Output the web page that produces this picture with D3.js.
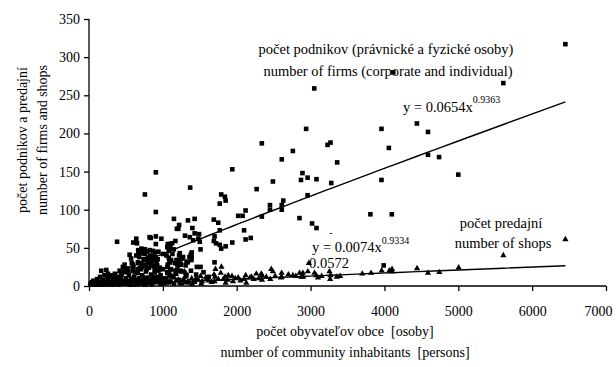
<!DOCTYPE html>
<html>
<head>
<meta charset="utf-8">
<script src="https://cdn.jsdelivr.net/npm/d3@7/dist/d3.min.js"></script>
<style>
  body { margin: 0; background: #fff; }
  svg { display: block; }
  text { font-family: "Liberation Serif", "Times New Roman", serif; fill: #000; }
</style>
</head>
<body>
<svg id="chart" width="616" height="367"></svg>
<script>
// firms: [inhabitants, number of firms]
const firms = [
  [6450, 317], [5610, 266], [4120, 280], [4440, 213], [4590, 202], [4590, 172],
  [4740, 169], [5000, 146], [4100, 94], [3050, 259], [2940, 206], [3960, 206],
  [3230, 185], [3270, 188], [4060, 181], [3360, 162], [2890, 148], [2960, 142],
  [3080, 140], [3960, 139], [2340, 187], [2760, 177], [2610, 166], [2490, 137],
  [2870, 139], [3280, 135], [2960, 119], [2630, 112], [2610, 106], [2450, 106],
  [2450, 100], [2610, 100], [2340, 91], [2850, 89], [3020, 82], [3080, 76],
  [3810, 94], [3990, 27], [905, 149], [1940, 153], [1370, 129], [2270, 127],
  [905, 97], [1790, 120], [1840, 117], [1770, 108], [1850, 112], [2020, 92],
  [2080, 92], [2120, 99], [1150, 88], [1340, 86], [1430, 88], [1220, 80],
  [1210, 75], [1190, 75], [1400, 76], [1690, 87], [1750, 83], [2100, 73],
  [1770, 73], [1300, 66], [1365, 64], [1430, 69], [1490, 68], [1410, 60],
  [1500, 58], [1480, 62], [1700, 65], [1690, 59], [1720, 56], [1770, 54],
  [1790, 49], [1850, 52], [1940, 57], [2120, 61], [2190, 63], [820, 64],
  [1170, 59], [1095, 55], [1060, 51], [1100, 51], [1080, 46], [1260, 36],
  [1220, 34], [1240, 29], [1390, 44], [1390, 38], [1510, 48], [1460, 25],
  [1700, 31], [1060, 25], [1090, 31], [757, 120], [380, 58], [640, 62],
  [600, 57], [650, 56], [980, 62], [905, 65], [835, 63], [905, 55],
  [710, 49], [757, 48], [666, 47], [550, 41], [570, 36], [166, 20],
  [234, 21], [257, 16], [1310, 27], [1320, 32], [1190, 21], [1170, 20],
  [1510, 25], [824, 47], [869, 46], [892, 44], [860, 39], [824, 36],
  [892, 34], [914, 31], [847, 27], [892, 21], [1004, 42], [923, 27],
  [960, 24], [730, 48], [707, 43], [788, 45], [753, 42], [797, 38],
  [774, 35], [820, 33], [842, 28], [1067, 55], [1125, 56], [1148, 48],
  [1090, 31], [1112, 34], [1067, 28], [886, 25], [955, 22], [1224, 32],
  [1247, 28], [1337, 31], [1360, 38], [415, 20], [459, 25], [482, 28],
  [504, 23], [527, 19], [436, 14], [594, 28], [662, 31], [689, 24],
  [1229, 43], [1274, 38], [1378, 41], [1387, 34], [1185, 34], [1193, 29],
  [320, 14], [365, 10], [410, 12], [455, 19], [523, 23],
  [700, 30], [720, 25], [740, 35], [760, 28], [780, 22], [800, 30],
  [830, 40], [850, 33], [870, 26], [900, 38], [930, 35], [940, 45],
  [680, 38], [660, 22], [620, 18], [600, 24], [580, 30], [640, 40], [670, 44],
  [1050, 40], [1080, 37], [1130, 42], [1160, 30], [1200, 26], [1220, 40],
  [1110, 22], [1060, 18], [1140, 12], [1240, 20],
  [30, 4], [60, 7], [80, 2], [110, 9], [130, 5], [150, 12], [170, 3],
  [190, 8], [210, 14], [240, 6], [260, 10], [280, 4], [300, 13], [320, 8],
  [350, 16], [370, 5], [390, 11], [420, 7], [440, 15], [460, 3], [480, 18],
  [500, 10], [520, 6], [540, 14], [570, 9], [590, 20], [610, 12], [630, 5],
  [660, 17], [680, 10], [700, 22], [720, 14], [740, 8], [770, 19], [790, 11],
  [810, 24], [840, 15], [860, 9], [890, 18], [910, 12], [940, 20], [970, 14],
  [1000, 22], [1030, 10], [1060, 17], [1100, 21], [1130, 13], [1180, 16],
  [1250, 19], [1320, 14], [1380, 20], [1450, 15], [1550, 18], [1620, 12],
  [20, 2], [45, 5], [95, 4], [140, 2], [180, 6], [220, 3], [270, 2],
  [310, 5], [360, 3], [400, 2], [430, 9], [470, 6], [510, 3], [550, 4],
  [600, 8], [640, 2], [700, 5], [750, 3], [800, 6], [850, 2], [900, 5],
  [950, 8], [1020, 4], [1080, 6], [1150, 3], [1220, 8], [1300, 5], [1420, 6]
];

// shops: [inhabitants, number of shops]
const shops = [
  [6450, 61], [5610, 40], [5005, 24], [4743, 18], [4590, 17], [4442, 23],
  [4104, 19], [2342, 14], [2342, 8], [2468, 22], [2490, 19], [2455, 9],
  [2608, 17], [2608, 12], [2761, 14], [2851, 17], [2874, 12], [2896, 17],
  [2963, 19], [3053, 17], [3076, 14], [3256, 19], [3270, 14], [3265, 9],
  [3355, 12], [3819, 17], [3963, 20], [4067, 20], [4103, 22], [2977, 30],
  [1712, 22], [1793, 25], [1784, 17], [1693, 15], [1706, 12], [1310, 17],
  [1170, 16], [1094, 14], [1071, 12], [1936, 13], [1842, 12], [2121, 14],
  [2266, 16], [2333, 16], [2130, 4], [1090, 17], [1292, 19], [1885, 14],
  [2020, 11], [2200, 12], [50, 2], [90, 3], [130, 1], [170, 4], [210, 2],
  [250, 5], [290, 3], [330, 6], [370, 2], [410, 4], [450, 7], [490, 3],
  [530, 5], [570, 2], [610, 6], [650, 4], [690, 8], [730, 3], [770, 5],
  [810, 7], [850, 4], [890, 9], [930, 5], [970, 3], [1010, 6], [1050, 8],
  [1120, 5], [1180, 7], [1230, 4], [1280, 9], [1340, 6], [1390, 10],
  [1430, 5], [1480, 8], [1530, 6], [1580, 11], [1620, 7], [1660, 5],
  [1750, 9], [1880, 8], [1980, 10], [2050, 7], [2180, 11], [2230, 9],
  [2400, 12], [2520, 13], [2700, 15], [2800, 13], [3150, 13], [1520, 3],
  [1400, 2], [1250, 3], [980, 2], [760, 1], [560, 1], [1850, 4],
  [20, 1], [70, 4], [110, 2], [150, 5], [190, 1], [230, 3], [270, 6],
  [310, 1], [350, 4], [390, 7], [430, 2], [470, 5], [510, 8], [550, 3],
  [590, 6], [630, 9], [670, 2], [710, 6], [750, 10], [790, 3], [830, 8],
  [870, 11], [910, 6], [950, 12], [1000, 9], [1070, 4], [1150, 11],
  [1210, 8], [1300, 12], [1360, 4], [1450, 10], [1510, 13], [1600, 9],
  [1700, 6], [1820, 9], [1950, 6], [2100, 9], [2300, 10], [2600, 11],
  [2900, 12], [3100, 11], [3400, 13], [3700, 16]
];

// power trend lines y = a * x^b
const firmFit = [0.0654, 0.9363];
const shopFit = [0.0074, 0.9334];

const xTicks = [0, 1000, 2000, 3000, 4000, 5000, 6000, 7000];
const yTicks = [0, 50, 100, 150, 200, 250, 300, 350];

function render() {
  const svg = d3.select("#chart");
  const x = d3.scaleLinear().domain([0, 7000]).range([89, 606]);
  const y = d3.scaleLinear().domain([0, 350]).range([286, 19]);

  // axes
  const yAxis = d3.axisLeft(y).tickValues(yTicks).tickSize(5).tickPadding(4)
    .tickFormat(d3.format("d"));
  const xAxis = d3.axisBottom(x).tickValues(xTicks).tickSize(5).tickPadding(15)
    .tickFormat(d3.format("d"));

  const gy = svg.append("g").attr("transform", "translate(89,0)").call(yAxis);
  const gx = svg.append("g").attr("transform", "translate(0,286)").call(xAxis);
  [gx, gy].forEach((g) => {
    g.selectAll("path, line").attr("stroke", "#000").attr("stroke-width", 1.3);
    g.selectAll("text").attr("font-size", 14).attr("font-family", "Liberation Serif");
  });
  gy.select(".domain").attr("d", "M0,19V286");
  gx.select(".domain").attr("d", "M89,0H606");
  // last label is pulled in so it fits the frame, as in the original
  gx.selectAll(".tick text").filter((d) => d === 7000).attr("dx", -8);

  // trend lines evaluated at the sorted data x values
  function trend(data, fit) {
    const xs = data.map((d) => d[0]).sort((a, b) => a - b);
    return xs.map((v) => [v, fit[0] * Math.pow(v, fit[1])]);
  }
  const line = d3.line().x((d) => x(d[0])).y((d) => y(d[1]));

  // points
  svg.append("g").selectAll("rect").data(firms).enter().append("rect")
    .attr("x", (d) => x(d[0]) - 2.3)
    .attr("y", (d) => y(d[1]) - 2.3)
    .attr("width", 4.6)
    .attr("height", 4.6)
    .attr("fill", "#000");

  const tri = d3.symbol().type(d3.symbolTriangle).size(17);
  svg.append("g").selectAll("path").data(shops).enter().append("path")
    .attr("d", tri)
    .attr("transform", (d) => `translate(${x(d[0])},${y(d[1])})`)
    .attr("fill", "#000");

  svg.append("path").datum(trend(firms, firmFit))
    .attr("d", line).attr("fill", "none").attr("stroke", "#000").attr("stroke-width", 1.4);
  svg.append("path").datum(trend(shops, shopFit))
    .attr("d", line).attr("fill", "none").attr("stroke", "#000").attr("stroke-width", 1.4);

  // labels
  const lab = (tx, ty, str, size, anchor) =>
    svg.append("text").attr("x", tx).attr("y", ty).attr("font-size", size)
      .attr("text-anchor", anchor || "middle").text(str);

  lab(386, 54, "počet podnikov (právnické a fyzické osoby)", 14.5);
  lab(388, 76, "number of firms (corporate and individual)", 14.5);

  const eq1 = svg.append("text").attr("x", 403).attr("y", 112).attr("font-size", 14.5);
  eq1.append("tspan").text("y = 0.0654x");
  eq1.append("tspan").attr("dy", -9).attr("font-size", 10).text("0.9363");

  lab(501, 228, "počet predajní", 14.5);
  lab(503, 248, "number of shops", 14.5);

  const eq2 = svg.append("text").attr("x", 312).attr("y", 252).attr("font-size", 14.5);
  eq2.append("tspan").text("y = 0.0074x");
  eq2.append("tspan").attr("dy", -8).attr("font-size", 10).text("0.9334");
  lab(309, 268, "0.0572", 14.5, "start");
  lab(331, 236, "-", 10);

  // axis titles
  lab(345, 336, "počet obyvateľov obce  [osoby]", 14).attr("xml:space", "preserve");
  lab(345, 357, "number of community inhabitants  [persons]", 14).attr("xml:space", "preserve");

  svg.append("text").attr("transform", "translate(27,140) rotate(-90)")
    .attr("text-anchor", "middle").attr("font-size", 14).text("počet podnikov a predajní");
  svg.append("text").attr("transform", "translate(47,140) rotate(-90)")
    .attr("text-anchor", "middle").attr("font-size", 14).text("number of firms and shops");
}

render();
</script>
</body>
</html>
